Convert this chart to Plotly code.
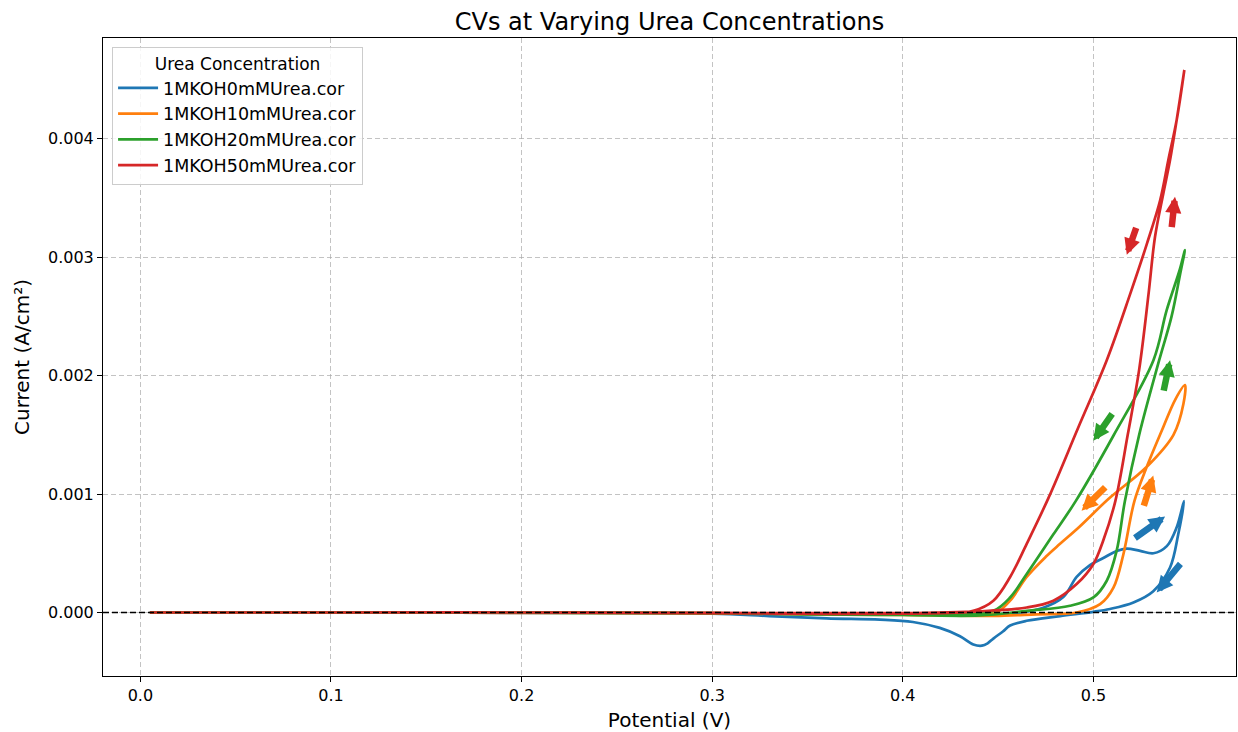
import plotly.graph_objects as go

# ---------------- data ----------------
series_names = ["1MKOH0mMUrea.cor", "1MKOH10mMUrea.cor", "1MKOH20mMUrea.cor", "1MKOH50mMUrea.cor"]
series_colors = ["#1f77b4", "#ff7f0e", "#2ca02c", "#d62728"]

potential_0mM = [0.005, 0.10, 0.20, 0.30, 0.35, 0.40, 0.44, 0.46, 0.4737, 0.4842, 0.4912, 0.4982,
                 0.5052, 0.5122, 0.5175, 0.5245, 0.5315, 0.5385, 0.5437, 0.5475,
                 0.5445, 0.5402, 0.5314, 0.521, 0.5087, 0.500, 0.4825, 0.465, 0.4563, 0.4525, 0.4475,
                 0.4445, 0.4415, 0.437, 0.430, 0.4194, 0.4053, 0.388, 0.36, 0.33, 0.30, 0.20, 0.10, 0.005]
current_0mM = [0.0, 0.0, -0.000002, -0.000008, -0.000012, -0.000018, -0.00002, -0.000005, 0.00004, 0.00013,
               0.00030, 0.00040, 0.00046, 0.00052, 0.00054, 0.00052, 0.00050, 0.00056, 0.00072, 0.00094,
               0.00066, 0.00038, 0.00018, 0.000085, 0.00003, 0.000006, -0.00003, -0.00007, -0.00011,
               -0.00016, -0.00022, -0.00026, -0.00028, -0.00027, -0.00020, -0.00013, -0.00008, -0.00006,
               -0.00005, -0.00003, -0.00001, -0.000003, 0.0, 0.0]

potential_10mM = [0.005, 0.10, 0.20, 0.30, 0.40, 0.4475, 0.47, 0.4912, 0.5035, 0.5105, 0.5157, 0.5215,
                  0.528, 0.536, 0.543, 0.548,
                  0.5472, 0.542, 0.528, 0.508, 0.4924, 0.4825, 0.475, 0.465, 0.4563, 0.4492, 0.44,
                  0.43, 0.40, 0.35, 0.30, 0.20, 0.10, 0.005]
current_10mM = [0.0, 0.0, -0.000003, -0.000008, -0.00002, -0.000028, -0.000015, 0.0, 0.00007, 0.00021,
                0.00049, 0.00094, 0.00123, 0.00154, 0.00180, 0.00192,
                0.00176, 0.00150, 0.00123, 0.00096, 0.00072, 0.00058, 0.00047, 0.00030, 0.00010, 0.0,
                -0.00002, -0.00002, -0.00002, -0.000015, -0.000005, 0.0, 0.0, 0.0]

potential_20mM = [0.005, 0.10, 0.20, 0.30, 0.40, 0.44, 0.465, 0.4877, 0.500, 0.507, 0.5122, 0.5165,
                  0.524, 0.5345, 0.541, 0.5454, 0.548,
                  0.5454, 0.5384, 0.5315, 0.5104, 0.4907, 0.479, 0.465, 0.4563, 0.4475, 0.43, 0.40,
                  0.35, 0.30, 0.20, 0.10, 0.005]
current_20mM = [0.0, 0.0, -0.000002, -0.000005, -0.00002, -0.000025, 0.000014, 0.000057, 0.000127,
                0.000268, 0.000522, 0.00094, 0.0015, 0.00213, 0.0025, 0.00285, 0.00306,
                0.0029, 0.00255, 0.00213, 0.00149, 0.00094, 0.00066, 0.000325, 0.000127, 0.000014,
                -0.00001, -0.00002, -0.000015, -0.000005, 0.0, 0.0, 0.0]

potential_50mM = [0.005, 0.10, 0.20, 0.30, 0.40, 0.44, 0.465, 0.479, 0.4912, 0.500, 0.5052, 0.5115,
                  0.518, 0.524, 0.529, 0.5323, 0.5367, 0.5402, 0.5437, 0.5477,
                  0.5437, 0.5393, 0.535, 0.528, 0.5193, 0.507, 0.492, 0.4765, 0.465, 0.4563, 0.4475,
                  0.437, 0.43, 0.40, 0.35, 0.30, 0.20, 0.10, 0.005]
current_50mM = [0.0, 0.0, 0.0, -0.000003, -0.000005, 0.00001, 0.000042, 0.0001, 0.00024, 0.00041,
                0.00061, 0.00094, 0.0015, 0.00205, 0.0027, 0.00317, 0.00354, 0.00382, 0.00416, 0.00458,
                0.00416, 0.00382, 0.00348, 0.00311, 0.00269, 0.00213, 0.00156, 0.00097, 0.00058, 0.0003,
                0.0001, 0.000014, 0.0, -0.00001, -0.00001, -0.000005, 0.0, 0.0, 0.0]

# scan-direction arrows: (tail potential, tail current, head potential, head current)
arrow_tail_x = [0.521, 0.5463, 0.5262, 0.507, 0.5367, 0.5104, 0.541, 0.5227]
arrow_tail_y = [0.00062, 0.000423, 0.000888, 0.00107, 0.00186, 0.00169, 0.00324, 0.00326]
arrow_head_x = [0.5376, 0.5332, 0.5314, 0.4938, 0.5402, 0.500, 0.5428, 0.5175]
arrow_head_y = [0.00081, 0.000169, 0.001156, 0.00086, 0.00213, 0.00145, 0.00351, 0.00302]
arrow_series = [0, 0, 1, 1, 2, 2, 3, 3]

x_tick_vals = [0.0, 0.1, 0.2, 0.3, 0.4, 0.5]
y_tick_vals = [0.000, 0.001, 0.002, 0.003, 0.004]

potentials = [potential_0mM, potential_10mM, potential_20mM, potential_50mM]
currents = [current_0mM, current_10mM, current_20mM, current_50mM]

FONT = "DejaVu Sans"
fig = go.Figure()
for name, color, xs, ys in zip(series_names, series_colors, potentials, currents):
    fig.add_trace(go.Scatter(x=xs, y=ys, mode="lines", name=name,
                             line=dict(color=color, width=2.7, shape="spline", smoothing=1.0)))

# dashed zero line
fig.add_shape(type="line", xref="paper", x0=0, x1=1, yref="y", y0=0, y1=0,
              line=dict(color="black", width=1.3, dash="6px,3px"), layer="above")

for tx, ty, hx, hy, s in zip(arrow_tail_x, arrow_tail_y, arrow_head_x, arrow_head_y, arrow_series):
    fig.add_annotation(x=hx, y=hy, ax=tx, ay=ty, xref="x", yref="y", axref="x", ayref="y",
                       text="", showarrow=True, arrowhead=2, arrowsize=0.5, arrowwidth=6.5,
                       arrowcolor=series_colors[s], standoff=0)

fig.update_layout(
    width=1238, height=732,
    margin=dict(l=103, r=2, t=38, b=56),
    paper_bgcolor="white", plot_bgcolor="white",
    font=dict(family=FONT, size=16, color="black"),
    title=dict(text="CVs at Varying Urea Concentrations", x=0.5, xref="paper", xanchor="center",
               y=1 - 22 / 732, yanchor="middle", font=dict(family=FONT, size=24, color="black")),
    showlegend=True,
    legend=dict(x=0.008, y=0.986, xanchor="left", yanchor="top",
                bgcolor="rgba(255,255,255,0.85)", bordercolor="#cccccc", borderwidth=1,
                font=dict(family=FONT, size=17.5, color="black"),
                title=dict(text="Urea Concentration", side="top center",
                           font=dict(family=FONT, size=17, color="black")),
                itemwidth=40, tracegroupgap=0),
)

fig.update_xaxes(range=[-0.0196, 0.5748], tickvals=x_tick_vals, tickformat=".1f",
                 showline=True, mirror=True, linecolor="black", linewidth=1,
                 ticks="outside", ticklen=5, tickcolor="black",
                 showgrid=True, gridcolor="rgba(170,170,170,0.7)", griddash="5px,3px", gridwidth=1,
                 zeroline=False, tickfont=dict(size=16),
                 title=dict(text="Potential (V)", font=dict(size=20), standoff=8))
fig.update_yaxes(range=[-0.000536, 0.00485], tickvals=y_tick_vals, tickformat=".3f",
                 showline=True, mirror=True, linecolor="black", linewidth=1,
                 ticks="outside", ticklen=5, tickcolor="black",
                 showgrid=True, gridcolor="rgba(170,170,170,0.7)", griddash="5px,3px", gridwidth=1,
                 zeroline=False, tickfont=dict(size=16),
                 title=dict(text="Current (A/cm²)", font=dict(size=20), standoff=12))

fig.write_html("out.html")
